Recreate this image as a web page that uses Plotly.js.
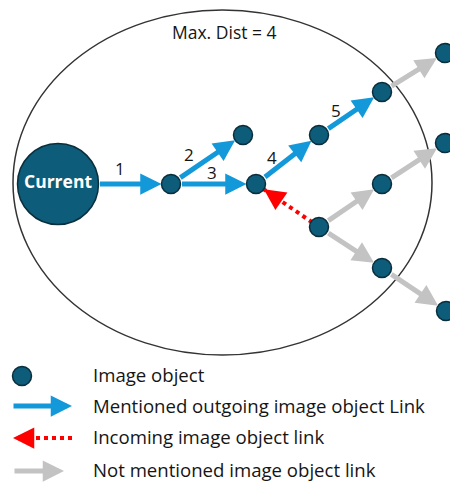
<!DOCTYPE html>
<html>
<head>
<meta charset="utf-8">
<script src="https://cdn.plot.ly/plotly-3.0.1.min.js"></script>
<style>html,body{margin:0;padding:0;background:#fff;}#chart{width:450px;height:482px;}</style>
</head>
<body>
<div id="chart"></div>
<script>
// ---- data ----
const currentNode = {x: 58, y: 184, label: 'Current'};
const nodeNames = ['A','B','C','D','E','F','G','H','I','J','K'];
const nodeX = [171, 243, 256, 319, 382, 445, 382, 445, 319, 382, 446];
const nodeY = [184, 135, 184, 135, 92, 53, 184, 143, 227, 268, 311];

const blueFrom = ['CUR','A','A','C','D'];
const blueTo   = ['A','B','C','D','E'];
const grayFrom = ['E','G','I','I','J'];
const grayTo   = ['F','H','G','J','K'];
const redFrom  = ['I'];
const redTo    = ['C'];

const edgeLabels = ['1','2','3','4','5'];
const edgeLabelX = [120, 189, 212, 272, 336];
const edgeLabelY = [168, 154, 172, 157, 110];

const ellipseBox = {x0: 13, x1: 432, y0: 10, y1: 355};
const titleText = 'Max. Dist = 4';

const legendTexts = ['Image object', 'Mentioned outgoing image object Link', 'Incoming image object link', 'Not mentioned image object link'];
const legendY = [376, 406, 438, 471];
const legendTextY = [374, 405, 436, 469];

// ---- styles ----
const NODE_FILL = '#0d5c7a';
const NODE_LINE = '#0a2e3c';
const BLUE = '#1399d9';
const RED = '#ff0000';
const GRAY = '#c3c3c3';
const TEXT = '#151515';
const FONT = 'Open Sans, Noto Sans, sans-serif';
const NODE_R = 9.5;
const CUR_R = 40.5;

function pos(id){
  if(id === 'CUR') return {x: currentNode.x, y: currentNode.y, r: CUR_R};
  const i = nodeNames.indexOf(id);
  return {x: nodeX[i], y: nodeY[i], r: NODE_R};
}

const annotations = [];
const traces = [];

function arrowAnn(from, to, color, standoffEnd, standoffStart){
  return {
    x: to.x, y: to.y, ax: from.x, ay: from.y,
    xref: 'x', yref: 'y', axref: 'x', ayref: 'y',
    text: '', showarrow: true, arrowhead: 2, arrowsize: 0.85, arrowwidth: 5,
    arrowcolor: color, standoff: standoffEnd, startstandoff: standoffStart
  };
}

blueFrom.forEach((f, i) => {
  const a = pos(f), b = pos(blueTo[i]);
  annotations.push(arrowAnn(a, b, BLUE, b.r, a.r));
});
grayFrom.forEach((f, i) => {
  const a = pos(f), b = pos(grayTo[i]);
  annotations.push(arrowAnn(a, b, GRAY, b.r, a.r));
});
redFrom.forEach((f, i) => {
  const a = pos(f), b = pos(redTo[i]);
  traces.push({x: [a.x, b.x], y: [a.y, b.y], mode: 'lines', type: 'scatter',
    line: {color: RED, width: 4, dash: 'dot'}, hoverinfo: 'skip', showlegend: false});
  const dx = a.x - b.x, dy = a.y - b.y, d = Math.hypot(dx, dy);
  const near = {x: b.x + dx / d * 31, y: b.y + dy / d * 31};
  annotations.push(arrowAnn(near, b, RED, b.r, 0));
});

// legend arrows
annotations.push(arrowAnn({x: 12, y: legendY[1]}, {x: 72, y: legendY[1]}, BLUE, 0, 0));
traces.push({x: [72, 30], y: [legendY[2], legendY[2]], mode: 'lines', type: 'scatter',
  line: {color: RED, width: 4, dash: 'dot'}, hoverinfo: 'skip', showlegend: false});
annotations.push(arrowAnn({x: 35, y: legendY[2]}, {x: 13, y: legendY[2]}, RED, 0, 0));
annotations.push(arrowAnn({x: 13, y: legendY[3]}, {x: 64, y: legendY[3]}, GRAY, 0, 0));

// nodes
traces.push({
  x: nodeX.concat([22]), y: nodeY.concat([legendY[0]]), mode: 'markers', type: 'scatter',
  marker: {size: NODE_R * 2, color: NODE_FILL, line: {color: NODE_LINE, width: 1.5}},
  hoverinfo: 'skip', showlegend: false, cliponaxis: false
});
traces.push({
  x: [currentNode.x], y: [currentNode.y], mode: 'markers+text', type: 'scatter',
  text: [currentNode.label], textposition: 'middle center',
  textfont: {family: FONT, size: 17.5, color: '#ffffff', weight: 'bold'},
  marker: {size: CUR_R * 2, color: NODE_FILL, line: {color: NODE_LINE, width: 1.5}},
  hoverinfo: 'skip', showlegend: false
});

// edge labels
edgeLabels.forEach((t, i) => annotations.push({
  x: edgeLabelX[i], y: edgeLabelY[i], xref: 'x', yref: 'y', text: t, showarrow: false,
  font: {family: FONT, size: 17, color: TEXT}
}));
annotations.push({x: 224, y: 32, xref: 'x', yref: 'y', text: titleText, showarrow: false,
  font: {family: FONT, size: 17.5, color: TEXT}});
legendTexts.forEach((t, i) => annotations.push({
  x: 92, y: legendTextY[i], xref: 'x', yref: 'y', xanchor: 'left', text: t, showarrow: false,
  borderpad: 0, font: {family: FONT, size: 18.6, color: TEXT}
}));

const layout = {
  width: 450, height: 482,
  margin: {l: 0, r: 0, t: 0, b: 0},
  paper_bgcolor: '#ffffff', plot_bgcolor: '#ffffff',
  xaxis: {range: [0, 450], visible: false, fixedrange: true},
  yaxis: {range: [482, 0], visible: false, fixedrange: true},
  showlegend: false,
  shapes: [{type: 'circle', xref: 'x', yref: 'y', x0: ellipseBox.x0, x1: ellipseBox.x1,
    y0: ellipseBox.y0, y1: ellipseBox.y1, line: {color: '#333333', width: 1.5}, layer: 'below'}],
  annotations: annotations
};
Plotly.newPlot('chart', traces, layout, {staticPlot: true, displayModeBar: false});
</script>
</body>
</html>
